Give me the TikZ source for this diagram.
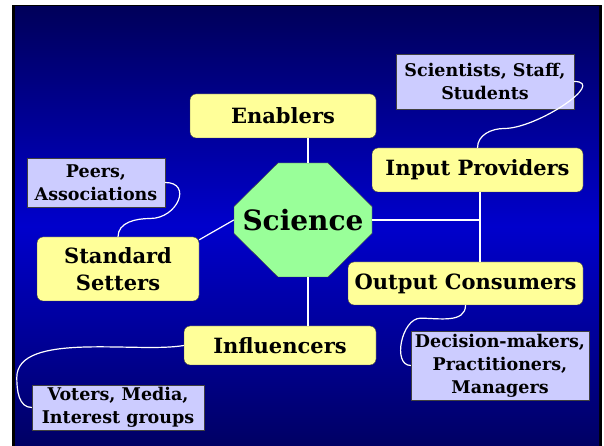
\documentclass[tikz,border=0pt]{standalone}
\usepackage{fontspec}
\setmainfont{DejaVu Serif}
\usepackage{tikz}
\usetikzlibrary{positioning}

\definecolor{skytop}{HTML}{00005A}
\definecolor{skymid}{HTML}{0000CC}
\definecolor{skybot}{HTML}{000064}
\definecolor{actorfill}{HTML}{FFFF99}
\definecolor{groupfill}{HTML}{CCCCFF}
\definecolor{corefill}{HTML}{99FF99}

\begin{document}
\begin{tikzpicture}[x=1pt, y=1pt, on grid,
		actor/.style = {draw=black!75, fill=actorfill, rounded corners=6pt, align=center, inner sep=0pt, font=\fontsize{21}{27}\selectfont\bfseries},
		group/.style = {draw=black!75, fill=groupfill, align=center, inner sep=0pt, font=\fontsize{17.5}{23}\selectfont\bfseries},
		wire/.style = {draw=white, line width=1.2pt}]
		\useasboundingbox (0,0) rectangle (604,446);
		\fill[black] (12,0) rectangle (602,441);
		\shade[top color=skytop, bottom color=skybot, middle color=skymid] (15,0) rectangle (599,439);
		
		% the octagon round Science
		\coordinate (hub) at (303,226);
		\draw[draw=black!75, fill=corefill] ([shift={(-25,57)}]hub) -- ([shift={(25,57)}]hub) -- ([shift={(69,13.5)}]hub) -- ([shift={(69,-13.5)}]hub) -- ([shift={(25,-57)}]hub) -- ([shift={(-25,-57)}]hub) -- ([shift={(-69,-13.5)}]hub) -- ([shift={(-69,13.5)}]hub) -- cycle;
		\node[minimum width=138pt, minimum height=114pt, inner sep=0pt, font=\fontsize{28}{30}\selectfont\bfseries] (sci) at (hub) {Science};
		
		\node[actor, minimum width=186pt, minimum height=44pt, above left = 104pt and 20pt of sci] (enab) {Enablers};
		\node[actor, minimum width=211pt, minimum height=44pt, above right = 50pt and 174.5pt of sci] (inp) {Input Providers};
		\node[actor, minimum width=235pt, minimum height=43pt, below right = 63.5pt and 162.5pt of sci] (outc) {Output Consumers};
		\node[actor, minimum width=192pt, minimum height=39pt, below left = 125.5pt and 23pt of sci] (infl) {Influencers};
		\node[actor, minimum width=162pt, minimum height=64pt, below left = 49pt and 185pt of sci] (std) {Standard\\Setters};
		
		\node[group, minimum width=138pt, minimum height=49pt, above left = 86.5pt and 22pt of std] (peers) {Peers,\\Associations};
		\node[group, minimum width=178pt, minimum height=55pt, above right = 88.5pt and 7.5pt of inp] (staff) {Scientists, Staff,\\Students};
		\node[group, minimum width=178pt, minimum height=69pt, below right = 82pt and 34.5pt of outc] (dec) {Decision-makers,\\Practitioners,\\Managers};
		\node[group, minimum width=172pt, minimum height=45pt, below left = 62pt and 162pt of infl] (voters) {Voters, Media,\\Interest groups};
		
		\draw[wire] ([xshift=5pt]sci.north) -- ([xshift=5pt]sci.north |- enab.south);
		\draw[wire] ([xshift=5pt]sci.south) -- ([xshift=5pt]sci.south |- infl.north);
		\draw[wire] (sci.east) -- ([xshift=2.5pt]inp.south |- sci.east);
		\draw[wire] ([xshift=2.5pt]inp.south) -- ([xshift=2.5pt]inp.south |- outc.north);
		\draw[wire] (sci.west) -- ([yshift=-3pt]std.north east);
		
		\draw[wire] (peers.east) to[out=0, in=0, looseness=1.8] ++(-15pt,-36pt) to[out=180, in=90] (std.north);
		\draw[wire] (staff.east) to[out=0, in=0] ++(-70pt,-47pt) to[out=180, in=90] (inp.north);
		\draw[wire] (outc.south) to[out=-90, in=0] ++(-45pt,-13pt) to[out=180, in=180] (dec.west);
		\draw[wire] (infl.west) to[out=190, in=90, looseness=0.7] ++(-167pt,-32pt) to[out=-90, in=180] (voters.west);
		
	\end{tikzpicture}
\end{document}
